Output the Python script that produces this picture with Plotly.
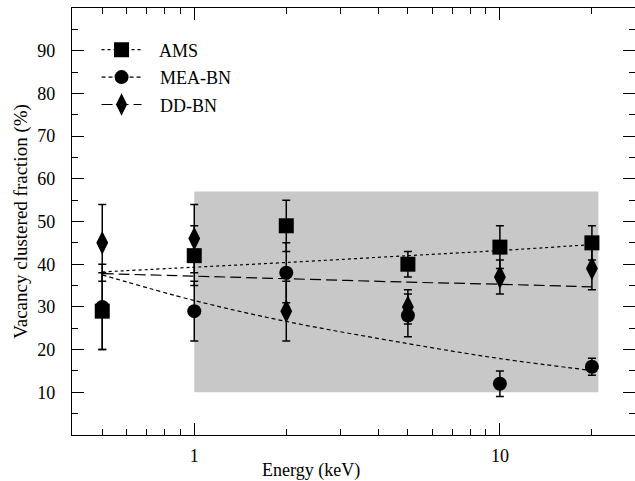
import plotly.graph_objects as go

# ---- data ----
energy = [0.5, 1, 2, 5, 10, 20]

ams = [29, 42, 49, 40, 44, 45]
ams_err = [9, 7, 6, 3, 5, 4]

mea = [30, 29, 38, 28, 12, 16]
mea_err = [10, 7, 7, 5, 3, 2]

dd = [45, 46, 29, 30, 37, 39]
dd_err = [9, 8, 7, 4, 4, 5]

# fitted curves, read at the same energies
ams_fit = [38.2, 39.3, 40.4, 42.0, 43.2, 44.6]
mea_fit = [37.5, 31.5, 26.6, 21.4, 17.9, 15.1]
dd_fit = [37.8, 37.2, 36.6, 35.8, 35.3, 34.7]

# shaded region
box_x = [1, 21]
box_y = [10, 57]

y_ticks = [10, 20, 30, 40, 50, 60, 70, 80, 90]
x_ticks = [1, 10]
x_minor = [0.5, 0.6, 0.7, 0.8, 0.9, 2, 3, 4, 5, 6, 7, 8, 9, 20]

FONT = "'Liberation Serif', 'Times New Roman', 'DejaVu Serif', serif"

series = [
    ("AMS", ams, ams_err, ams_fit, "square", 15, "dot"),
    ("MEA-BN", mea, mea_err, mea_fit, "circle", 14, "4px,3px"),
    ("DD-BN", dd, dd_err, dd_fit, "diamond-tall", 17, "11px,5px"),
]

fig = go.Figure()

# fit lines
for name, vals, err, fit, sym, size, dash in series:
    fig.add_trace(go.Scatter(
        x=energy, y=fit, mode="lines", line_shape="spline",
        line=dict(color="black", width=1.2, dash=dash),
        showlegend=False, hoverinfo="skip"))

# data points with error bars
for name, vals, err, fit, sym, size, dash in series:
    fig.add_trace(go.Scatter(
        x=energy, y=vals, mode="markers",
        marker=dict(symbol=sym, size=size, color="black"),
        error_y=dict(type="data", array=err, visible=True,
                     color="black", thickness=1.5, width=4),
        showlegend=False))

# legend entries
for i, (name, vals, err, fit, sym, size, dash) in enumerate(series):
    fig.add_trace(go.Scatter(
        x=[None], y=[None], mode="lines+markers", name="   " + name,
        legendgroup=name,
        line=dict(color="black", width=1.2, dash=dash),
        marker=dict(symbol=sym, size=size, color="black")))

fig.add_shape(type="rect", xref="x", yref="y",
              x0=box_x[0], x1=box_x[1], y0=box_y[0], y1=box_y[1],
              fillcolor="#c8c8c8", line=dict(width=0), layer="below")

axis_common = dict(
    showline=True, linecolor="black", linewidth=1.3, mirror="allticks",
    ticks="inside", ticklen=12, tickwidth=1.2, tickcolor="black",
    showgrid=False, zeroline=False,
    tickfont=dict(family=FONT, size=18, color="black"),
)

fig.update_xaxes(
    type="log", range=[-0.4, 1.442],
    tickmode="array", tickvals=x_ticks, ticktext=["1", "10"],
    ticklabelstandoff=4,
    minor=dict(tickmode="array", tickvals=x_minor, ticks="inside",
               ticklen=6, tickwidth=1.2, tickcolor="black", showgrid=False),
    **axis_common)

fig.update_yaxes(
    range=[0, 100],
    tickmode="array", tickvals=y_ticks,
    ticklabelstandoff=12,
    minor=dict(dtick=5, tick0=0, ticks="inside", ticklen=6, tickwidth=1.2,
               tickcolor="black", showgrid=False),
    title=dict(text="Vacancy clustered fraction (%)",
               font=dict(family=FONT, size=19, color="black"), standoff=4),
    **axis_common)

fig.add_annotation(text="Energy (keV)", xref="paper", yref="paper",
                   x=0.4245, y=-0.082, xanchor="center", yanchor="middle",
                   showarrow=False, font=dict(family=FONT, size=18, color="black"))

fig.update_layout(
    width=635, height=481,
    margin=dict(l=72, r=0, t=8, b=46),
    plot_bgcolor="white", paper_bgcolor="white",
    font=dict(family=FONT, color="black"),
    legend=dict(x=0.0436, y=0.945, xanchor="left", yanchor="top",
                bgcolor="rgba(0,0,0,0)", itemwidth=40, tracegroupgap=1,
                font=dict(family=FONT, size=18, color="black")),
)

fig.write_html("out.html")
